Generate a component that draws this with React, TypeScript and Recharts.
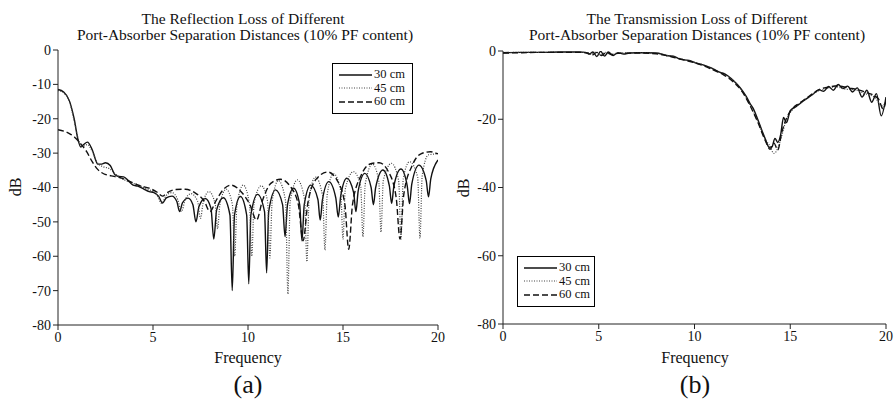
import React from 'react';
import { LineChart, Line, XAxis, YAxis } from 'recharts';

const FONT = '"Liberation Serif", "Times New Roman", serif';

const freqTicks = [0, 5, 10, 15, 20];
const rlTicks = [0, -10, -20, -30, -40, -50, -60, -70, -80];
const tlTicks = [0, -20, -40, -60, -80];

const seriesNames = ['30 cm', '45 cm', '60 cm'];

// reflection loss, [frequency, dB]
const rl30 = [
  [0, -11.5], [0.3, -12.2], [0.6, -14.8], [0.85, -20], [1.05, -26], [1.2, -28.2], [1.35, -27.5],
  [1.55, -26.8], [1.8, -29], [2.1, -33.2], [2.3, -33.2], [2.5, -32.8], [2.75, -33.6], [3.0, -36.3],
  [3.2, -36.8], [3.45, -36.9], [3.7, -38], [3.95, -39.3], [4.2, -39.6], [4.5, -40.4], [4.8, -41.2],
  [5.05, -41.5], [5.3, -42.6], [5.5, -44.5], [5.7, -43], [6.0, -42.5], [6.25, -44], [6.4, -47],
  [6.55, -44.5], [6.85, -43.1], [7.1, -45], [7.26, -50], [7.42, -45.5], [7.75, -43.2], [8.05, -46],
  [8.2, -55], [8.35, -46.5], [8.7, -43], [9.05, -48], [9.17, -70], [9.29, -48], [9.6, -42.6],
  [9.93, -48], [10.04, -68], [10.15, -48], [10.5, -42], [10.87, -47], [10.98, -64.8], [11.09, -47],
  [11.45, -40.7], [11.82, -45], [11.95, -54.3], [12.08, -45], [12.4, -40.2], [12.72, -45],
  [12.84, -55.5], [12.96, -45], [13.3, -39.3], [13.68, -43.5], [13.8, -49.5], [13.92, -43.5],
  [14.25, -38.3], [14.62, -43], [14.75, -48.6], [14.88, -42.5], [15.2, -37.3], [15.56, -41.5],
  [15.68, -47], [15.8, -41], [16.15, -35.9], [16.48, -40], [16.6, -45], [16.72, -40], [17.1, -34.9],
  [17.44, -39.5], [17.56, -44.6], [17.68, -39.5], [18.05, -34.6], [18.38, -39.5], [18.5, -44.7],
  [18.62, -39], [19.0, -33.5], [19.38, -38], [19.5, -42.7], [19.62, -37.5], [20, -32],
];

const rl45 = [
  [0, -11.8], [0.3, -12.5], [0.6, -15], [0.85, -20.5], [1.1, -26.5], [1.3, -28], [1.55, -27.5],
  [1.8, -29.5], [2.1, -33], [2.4, -34], [2.7, -34.5], [3.0, -36], [3.4, -37.5], [3.8, -38.5],
  [4.2, -39.2], [4.6, -40.2], [5.0, -41.2], [5.2, -42], [5.45, -44.6], [5.7, -42.3], [6.0, -41.5],
  [6.3, -43.5], [6.5, -47], [6.7, -43.5], [7.0, -41.8], [7.35, -44], [7.5, -49], [7.65, -44],
  [7.95, -41.2], [8.28, -45], [8.4, -52], [8.52, -45], [8.85, -40.5], [9.18, -45], [9.3, -60],
  [9.42, -45], [9.75, -39.3], [10.08, -45], [10.2, -60], [10.32, -44.5], [10.7, -39.5], [11.03, -44],
  [11.15, -60.5], [11.27, -44], [11.6, -38], [11.98, -44], [12.1, -71], [12.22, -44], [12.6, -37.8],
  [12.98, -43.5], [13.1, -61.6], [13.22, -43], [13.55, -37], [13.93, -42.5], [14.05, -58.2],
  [14.17, -42], [14.5, -36], [14.88, -41], [15.0, -55], [15.12, -40.5], [15.55, -35.4],
  [15.93, -39.5], [16.05, -54.3], [16.17, -39], [16.55, -33.2], [16.88, -38], [17.0, -53],
  [17.12, -38], [17.55, -33], [17.93, -38], [18.05, -55], [18.17, -37.5], [18.5, -32.5],
  [18.93, -37], [19.05, -54.7], [19.17, -36.5], [19.5, -30.5], [20, -30.2],
];

const rl60 = [
  [0, -23.2], [0.3, -23.6], [0.6, -24.3], [0.9, -25.5], [1.2, -27.3], [1.5, -29.5], [1.8, -32.5],
  [2.1, -34.8], [2.4, -36], [2.8, -36.6], [3.3, -37.2], [3.8, -38.3], [4.3, -39.5], [4.8, -40.2],
  [5.2, -41.3], [5.5, -42.5], [5.75, -41.5], [6.2, -40.6], [6.7, -40.5], [7.2, -41.5], [7.7, -44],
  [8.0, -47], [8.3, -44], [8.7, -40.6], [9.1, -39.3], [9.6, -41], [10.1, -45], [10.45, -49.5],
  [10.75, -44], [11.2, -38.8], [11.7, -37.6], [12.2, -39.5], [12.65, -45], [12.9, -55.5],
  [13.15, -44.5], [13.6, -37.5], [14.2, -35.5], [14.7, -38], [15.1, -45], [15.3, -58], [15.5, -45],
  [15.95, -36.5], [16.5, -33], [16.9, -32.8], [17.4, -35.5], [17.8, -43], [18.0, -55], [18.2, -42],
  [18.65, -33.5], [19.1, -30.2], [19.6, -29.6], [20, -30.2],
];

// transmission loss, [frequency, dB]
const tl30 = [
  [0, -0.5], [1, -0.4], [2, -0.4], [3, -0.3], [4, -0.3], [4.3, -0.4], [4.5, -0.9], [4.7, -0.3],
  [4.9, -1.6], [5.1, -0.1], [5.3, -1.5], [5.5, -0.3], [5.75, -1.3], [6.0, -0.5], [6.3, -0.9],
  [6.6, -0.6], [7, -0.5], [7.5, -0.5], [8, -0.6], [8.3, -0.9], [8.6, -1.4], [8.9, -1.5], [9.2, -2.3],
  [9.5, -2.6], [9.8, -2.9], [10.1, -3.6], [10.4, -4], [10.7, -4.6], [11.0, -5.3], [11.3, -6.2],
  [11.6, -6.8], [11.9, -8], [12.2, -9.6], [12.5, -11.6], [12.7, -13.3], [12.9, -15.4], [13.1, -17.2],
  [13.3, -20], [13.5, -23], [13.7, -25.8], [13.9, -28.2], [14.05, -28], [14.2, -25.6], [14.35, -26.8],
  [14.5, -24.5], [14.65, -19.5], [14.8, -21], [15.0, -17.5], [15.3, -16.3], [15.6, -15],
  [15.9, -13.8], [16.2, -12.6], [16.5, -11.4], [16.75, -11.8], [17.0, -10.4], [17.25, -11.5],
  [17.5, -9.8], [17.75, -11], [18.0, -10.3], [18.25, -12], [18.5, -10.8], [18.75, -13.5],
  [19.0, -11.5], [19.25, -15], [19.5, -12.5], [19.75, -19], [20, -13.5],
];

const tl45 = [
  [0, -0.5], [1, -0.4], [2, -0.4], [3, -0.3], [4, -0.4], [4.4, -0.5], [4.6, -1.0], [4.85, -0.3],
  [5.1, -1.2], [5.35, -0.4], [5.6, -1], [6, -0.6], [7, -0.5], [8, -0.7], [8.5, -1.2], [9, -1.8],
  [9.5, -2.6], [10, -3.3], [10.5, -4.2], [11, -5.4], [11.5, -6.6], [12, -8.6], [12.5, -11.8],
  [12.9, -15.8], [13.3, -20.5], [13.7, -26], [13.9, -27.5], [14.15, -30], [14.35, -28.5],
  [14.55, -25], [14.8, -20], [15.1, -17.3], [15.5, -15.3], [16, -13.4], [16.5, -11.6],
  [16.9, -11], [17.4, -10.5], [17.9, -11.2], [18.4, -11.4], [18.9, -12.5], [19.4, -13.5],
  [19.8, -16], [20, -15],
];

const tl60 = [
  [0, -0.6], [1, -0.5], [2, -0.4], [3, -0.4], [4, -0.4], [4.4, -0.6], [4.65, -1.2], [4.9, -0.4],
  [5.15, -1.3], [5.4, -0.4], [5.7, -1.1], [6, -0.7], [7, -0.6], [8, -0.8], [8.5, -1.3], [9, -2],
  [9.5, -2.7], [10, -3.4], [10.5, -4.4], [11, -5.6], [11.5, -6.9], [12, -8.9], [12.5, -12],
  [12.9, -16], [13.3, -20.8], [13.7, -26.3], [13.95, -28.8], [14.15, -27], [14.35, -29],
  [14.55, -24], [14.8, -19.8], [15.1, -17], [15.5, -15.2], [16, -13.2], [16.5, -11.3],
  [17, -10.6], [17.5, -10.2], [18, -10.8], [18.5, -11.3], [19, -12.2], [19.6, -14],
  [19.85, -17], [20, -14.5],
];

const toPoints = (arr: number[][]) => arr.map(([f, v]) => ({ f, v }));

const lineStyles = [
  { stroke: '#111', strokeWidth: 1.4, strokeDasharray: undefined },
  { stroke: '#444', strokeWidth: 1.2, strokeDasharray: '1 1.5' },
  { stroke: '#111', strokeWidth: 1.4, strokeDasharray: '6 3' },
];

function LegendBox({ left, top, width }: { left: number; top: number; width: number }) {
  return (
    <div
      style={{
        position: 'absolute',
        left,
        top,
        width,
        boxSizing: 'border-box',
        border: '1px solid #000',
        background: '#fff',
        padding: '4px 0 4px 6px',
        fontFamily: FONT,
        fontSize: 12.5,
        color: '#111',
        lineHeight: '13.5px',
        whiteSpace: 'nowrap',
      }}
    >
      {seriesNames.map((name, i) => (
        <div key={name} style={{ display: 'flex', alignItems: 'center' }}>
          <svg width={33} height={8}>
            <line
              x1={0}
              y1={4}
              x2={33}
              y2={4}
              stroke={lineStyles[i].stroke}
              strokeWidth={lineStyles[i].strokeWidth}
              strokeDasharray={lineStyles[i].strokeDasharray}
            />
          </svg>
          <span style={{ marginLeft: 2 }}>{name}</span>
        </div>
      ))}
    </div>
  );
}

function Text({ x, y, size, lh, children, rotate }: any) {
  return (
    <div
      style={{
        position: 'absolute',
        left: x,
        top: y,
        transform: `translate(-50%, -50%)${rotate ? ' rotate(-90deg)' : ''}`,
        fontFamily: FONT,
        fontSize: size,
        color: '#111',
        whiteSpace: 'nowrap',
        textAlign: 'center',
        lineHeight: `${lh ?? size + 1}px`,
      }}
    >
      {children}
    </div>
  );
}

function Panel({
  series,
  yTicks,
  margin,
}: {
  series: number[][][];
  yTicks: number[];
  margin: { top: number; right: number; bottom: number; left: number };
}) {
  const tick = { fontSize: 14, fill: '#111', fontFamily: FONT };
  return (
    <LineChart width={448} height={399} margin={margin}>
      <XAxis
        dataKey="f"
        type="number"
        domain={[0, 20]}
        ticks={freqTicks}
        height={30}
        tickSize={5}
        tick={tick}
        stroke="#222"
        allowDataOverflow
      />
      <XAxis
        xAxisId="top"
        orientation="top"
        type="number"
        domain={[0, 20]}
        height={0}
        tick={false}
        tickLine={false}
        stroke="#222"
      />
      <YAxis
        dataKey="v"
        type="number"
        domain={[-80, 0]}
        ticks={yTicks}
        width={40}
        tickSize={5}
        tick={tick}
        stroke="#222"
        allowDataOverflow
        interval={0}
      />
      <YAxis
        yAxisId="right"
        orientation="right"
        type="number"
        domain={[-80, 0]}
        width={0}
        tick={false}
        tickLine={false}
        stroke="#555"
      />
      {series.map((s, i) => (
        <Line
          key={seriesNames[i]}
          data={toPoints(s)}
          dataKey="v"
          name={seriesNames[i]}
          type="monotone"
          dot={false}
          isAnimationActive={false}
          stroke={lineStyles[i].stroke}
          strokeWidth={lineStyles[i].strokeWidth}
          strokeDasharray={lineStyles[i].strokeDasharray}
        />
      ))}
    </LineChart>
  );
}

export default function App() {
  return (
    <div style={{ position: 'absolute', left: 0, top: 0, width: 896, height: 399, background: '#fff' }}>
      <div style={{ position: 'absolute', left: 0, top: 0 }}>
        <Panel
          series={[rl30, rl45, rl60]}
          yTicks={rlTicks}
          margin={{ top: 50, right: 10, bottom: 44, left: 18 }}
        />
      </div>
      <div style={{ position: 'absolute', left: 448, top: 0 }}>
        <Panel
          series={[tl30, tl45, tl60]}
          yTicks={tlTicks}
          margin={{ top: 51, right: 10, bottom: 45, left: 15 }}
        />
      </div>

      <LegendBox left={332} top={63} width={81} />
      <LegendBox left={517} top={256} width={78} />

      <Text x={243} y={18} size={15.5} lh={15}>
        The Reflection Loss of Different
      </Text>
      <Text x={245} y={34} size={15.5} lh={15}>
        Port-Absorber Separation Distances (10% PF content)
      </Text>
      <Text x={697} y={18} size={15.5} lh={15}>
        The Transmission Loss of Different
      </Text>
      <Text x={697} y={34} size={15.5} lh={15}>
        Port-Absorber Separation Distances (10% PF content)
      </Text>

      <Text x={15} y={187} size={16} rotate>
        dB
      </Text>
      <Text x={463} y={188} size={16} rotate>
        dB
      </Text>

      <Text x={248} y={357} size={16}>
        Frequency
      </Text>
      <Text x={695} y={357} size={16}>
        Frequency
      </Text>

      <Text x={248} y={384} size={26}>
        (a)
      </Text>
      <Text x={695} y={384} size={26}>
        (b)
      </Text>
    </div>
  );
}
